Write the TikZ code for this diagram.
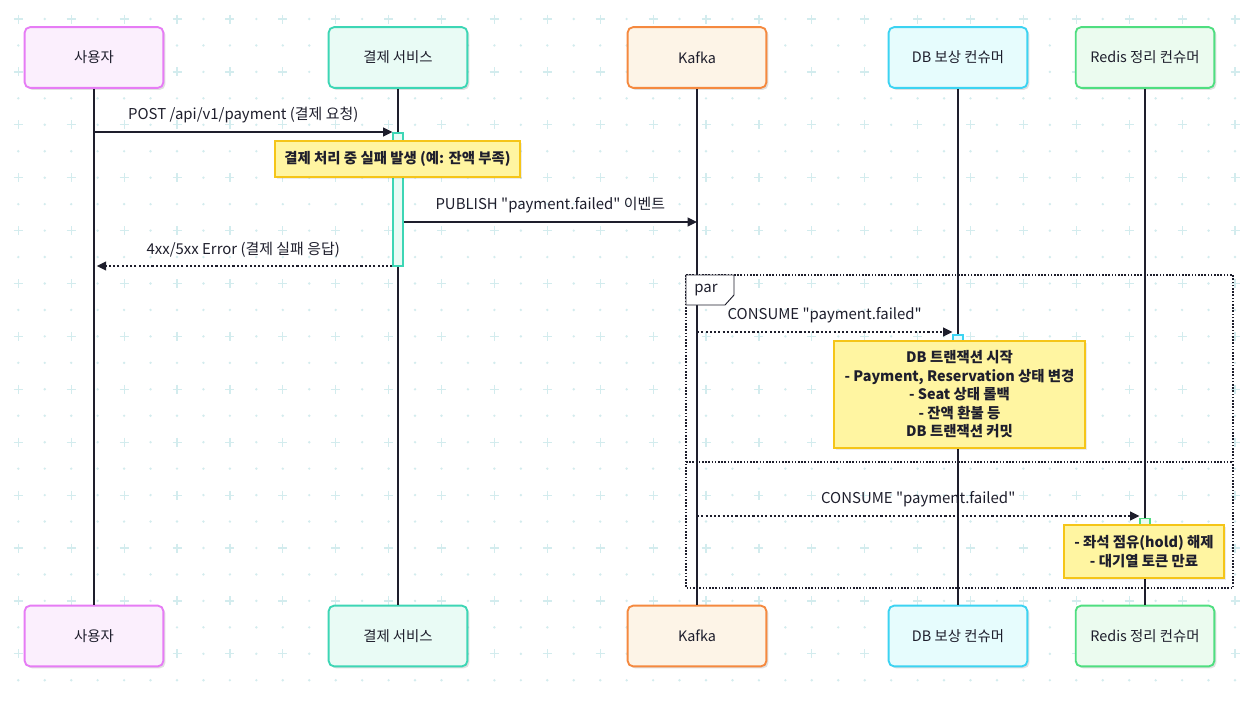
\documentclass[tikz,border=0pt]{standalone}
\usepackage{fontspec}
\setmainfont{Noto Sans CJK KR}[Ligatures=TeXOff]
\usetikzlibrary{arrows.meta, positioning, calc, shadows}

\definecolor{ink}{HTML}{1E1E2C}
\definecolor{gridcol}{HTML}{D3ECEE}
\definecolor{bdusr}{HTML}{E67CF5}
\definecolor{bgusr}{HTML}{FBEFFD}
\definecolor{bdpay}{HTML}{3DD6B5}
\definecolor{bgpay}{HTML}{E9FBF5}
\definecolor{bdkaf}{HTML}{F5893F}
\definecolor{bgkaf}{HTML}{FDF4E7}
\definecolor{bddbc}{HTML}{3CD3F2}
\definecolor{bgdbc}{HTML}{E6FCFD}
\definecolor{bdrds}{HTML}{4FDE80}
\definecolor{bgrds}{HTML}{EBFBEF}
\definecolor{notebd}{HTML}{F5C518}
\definecolor{notebg}{HTML}{FFF5A1}

\begin{document}
\begin{tikzpicture}[x=0.75pt, y=-0.75pt,
    actor/.style={draw, rounded corners=4pt, line width=1.4pt, minimum width=104pt,
        minimum height=45.5pt, font=\fontsize{10.8}{13}\selectfont, text=ink,
        drop shadow={shadow xshift=1.5pt, shadow yshift=-1.5pt, opacity=0.12, fill=black}},
    lifeline/.style={ink, line width=1.2pt},
    msg/.style={ink, line width=1.2pt, -{Triangle[length=7pt, width=6.5pt]}},
    reply/.style={msg, dash pattern=on 1.6pt off 1.6pt},
    msglabel/.style={font=\fontsize{11.2}{13}\selectfont, text=ink, inner sep=0pt},
    note/.style={draw=notebd, fill=notebg, line width=1.1pt, align=center, inner sep=0pt,
        font=\fontsize{10.8}{13.9}\selectfont\bfseries, text=ink,
        drop shadow={shadow xshift=1.5pt, shadow yshift=-1.5pt, opacity=0.08, fill=black}},
    activation/.style={line width=0.8pt, minimum width=7.5pt, inner sep=0pt},
]
    \useasboundingbox[fill=white] (0,0) rectangle (1255,700);

    % Background grid
    \foreach \i in {0,...,23}
        \foreach \j in {0,...,12} {
            \draw[gridcol, line width=0.9pt] ({18.3+52.9*\i-4.5},{19+52.9*\j}) -- ++(9,0)
                ({18.3+52.9*\i},{19+52.9*\j-4.5}) -- ++(0,9);
            \fill[gridcol] ({18.3+52.9*\i+26.45},{19+52.9*\j}) circle (1pt)
                ({18.3+52.9*\i},{19+52.9*\j+26.45}) circle (1pt)
                ({18.3+52.9*\i+26.45},{19+52.9*\j+26.45}) circle (1pt);
        }

    % par frame
    \draw[ink, line width=0.8pt, dash pattern=on 1.2pt off 1.2pt] (686,275) rectangle (1233,588);
    \draw[ink, line width=0.8pt, dash pattern=on 1.2pt off 1.2pt] (686,462) -- (1233,462);

    % Participants and lifelines
    \foreach \nm/\xx/\txt/\col in {user/94/사용자/usr, pay/398/결제 서비스/pay,
            kafka/697/Kafka/kaf, dbc/958/DB 보상 컨슈머/dbc, rds/1145/Redis 정리 컨슈머/rds} {
        \node[actor, draw=bd\col, fill=bg\col] (\nm-t) at (\xx,57.5) {\txt};
        \node[actor, draw=bd\col, fill=bg\col] (\nm-b) at (\xx,636) {\txt};
        \draw[lifeline] (\nm-t.south) -- (\nm-b.north);
    }

    % par label
    \draw[ink, line width=0.7pt, fill=white] (686,275) -- (734,275) -- (734,295)
        -- (725,305) -- (686,305) -- cycle;
    \node[msglabel] (parlbl) at (706,290) {par};

    % Activations
    \node[activation, draw=bdpay, fill=bgpay, minimum height=99.75pt] (pay-act) at (398,199.5) {};
    \node[activation, draw=bddbc, fill=bgdbc, minimum height=60pt] (dbc-act) at (958,375) {};
    \node[activation, draw=bdrds, fill=bgrds, minimum height=40pt] (rds-act) at (1145,545) {};

    % Messages
    \coordinate (req) at (94,132);
    \draw[msg] (req) -- (req -| pay-act.west)
        node[msglabel, midway, above=6pt] (req-lbl) {POST /api/v1/payment (결제 요청)};

    \coordinate (pub) at (pay-act.east |- 0,222);
    \draw[msg] (pub) -- (pub -| kafka-t)
        node[msglabel, midway, above=6pt] (pub-lbl) {PUBLISH "payment.failed" 이벤트};

    \coordinate (err) at (pay-act.west |- 0,266);
    \draw[reply, shorten >=2pt] (err) -- (err -| user-t)
        node[msglabel, midway, above=6pt] (err-lbl) {4xx/5xx Error (결제 실패 응답)};

    \coordinate (con1) at (697,332);
    \draw[reply] (con1) -- (con1 -| dbc-act.west)
        node[msglabel, midway, above=6pt] (con1-lbl) {CONSUME "payment.failed"};

    \coordinate (con2) at (697,516);
    \draw[reply] (con2) -- (con2 -| rds-act.west)
        node[msglabel, midway, above=6pt] (con2-lbl) {CONSUME "payment.failed"};

    % Notes
    \node[note, minimum width=184pt, minimum height=27pt] (fail-note) at (397.5,159)
        {결제 처리 중 실패 발생 (예: 잔액 부족)};
    \node[note, minimum width=188pt, minimum height=80pt] (db-note) at (959.5,394.5)
        {DB 트랜잭션 시작\\- Payment, Reservation 상태 변경\\- Seat 상태 롤백\\- 잔액 환불 등\\DB 트랜잭션 커밋};
    \node[note, minimum width=120pt, minimum height=40pt] (rds-note) at (1144,551.5)
        {- 좌석 점유(hold) 해제\\- 대기열 토큰 만료};
\end{tikzpicture}
\end{document}
